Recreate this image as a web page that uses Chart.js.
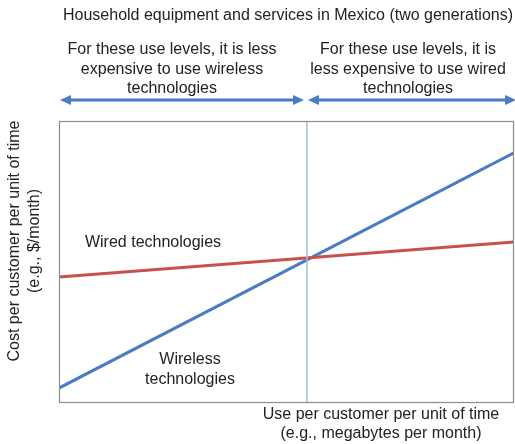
<!DOCTYPE html>
<html>
<head>
<meta charset="utf-8">
<script src="https://cdn.jsdelivr.net/npm/chart.js@4/dist/chart.umd.min.js"></script>
<style>
  html, body { margin: 0; padding: 0; background: #fff; }
  #wrap { width: 515px; height: 444px; position: relative; }
</style>
</head>
<body>
<div id="wrap"><canvas id="costChart"></canvas></div>
<script>
// Use levels (x) and cost per customer (y), arbitrary 0-100 units
const useLevels = [0, 100];
const wirelessCost = [5.3, 88.7];
const wiredCost = [44.7, 57.1];
const crossoverUse = 54.5;
const crossoverLine = [0, 100];

const FONT = '"Liberation Sans", Arial, sans-serif';
const BLUE = '#4a7bc5';
const RED = '#c8504e';

// annotations, arrows and frame
const extras = {
  id: 'extras',
  afterDatasetsDraw(chart) {
    const ctx = chart.ctx;
    const area = chart.chartArea;
    const xs = chart.scales.x;
    const cx = xs.getPixelForValue(crossoverUse);

    ctx.save();
    // frame
    ctx.strokeStyle = '#8c8c8c';
    ctx.lineWidth = 1.2;
    ctx.strokeRect(area.left + 0.5, area.top + 0.5, area.right - area.left - 1, area.bottom - area.top - 1);

    ctx.fillStyle = '#222';
    ctx.textAlign = 'center';
    ctx.textBaseline = 'middle';
    ctx.font = '16px ' + FONT;
    ctx.fillText('Household equipment and services in Mexico (two generations)', 288, 16);

    ['For these use levels, it is less', 'expensive to use wireless', 'technologies']
      .forEach((t, i) => ctx.fillText(t, 172, 50 + i * 19.5));
    ['For these use levels, it is', 'less expensive to use wired', 'technologies']
      .forEach((t, i) => ctx.fillText(t, 408, 50 + i * 19.5));

    // double arrows
    function arrow(x1, x2, y) {
      ctx.strokeStyle = BLUE;
      ctx.fillStyle = BLUE;
      ctx.lineWidth = 3;
      ctx.beginPath();
      ctx.moveTo(x1 + 8, y);
      ctx.lineTo(x2 - 8, y);
      ctx.stroke();
      ctx.beginPath();
      ctx.moveTo(x1, y); ctx.lineTo(x1 + 11, y - 5); ctx.lineTo(x1 + 11, y + 5); ctx.closePath();
      ctx.fill();
      ctx.beginPath();
      ctx.moveTo(x2, y); ctx.lineTo(x2 - 11, y - 5); ctx.lineTo(x2 - 11, y + 5); ctx.closePath();
      ctx.fill();
    }
    arrow(area.left + 1, cx - 3, 100);
    arrow(cx + 1, area.right + 2, 100);

    // line labels
    ctx.fillStyle = '#222';
    ctx.fillText('Wired technologies', 153, 243);
    ctx.fillText('Wireless', 190, 360);
    ctx.fillText('technologies', 190, 380);

    // axis titles
    ctx.fillText('Use per customer per unit of time', 381, 415);
    ctx.fillText('(e.g., megabytes per month)', 381, 434);

    ctx.save();
    ctx.translate(15, 241);
    ctx.rotate(-Math.PI / 2);
    ctx.fillText('Cost per customer per unit of time', 0, 0);
    ctx.fillText('(e.g., $/month)', 0, 20);
    ctx.restore();

    ctx.restore();
  }
};

new Chart(document.getElementById('costChart'), {
  type: 'line',
  data: {
    datasets: [
      {
        label: 'Crossover',
        data: crossoverLine.map(v => ({ x: crossoverUse, y: v })),
        borderColor: '#9dbfe3',
        borderWidth: 1.5,
        pointRadius: 0
      },
      {
        label: 'Wired technologies',
        data: useLevels.map((u, i) => ({ x: u, y: wiredCost[i] })),
        borderColor: RED,
        borderWidth: 3,
        pointRadius: 0
      },
      {
        label: 'Wireless technologies',
        data: useLevels.map((u, i) => ({ x: u, y: wirelessCost[i] })),
        borderColor: BLUE,
        borderWidth: 3,
        pointRadius: 0
      }
    ]
  },
  options: {
    responsive: true,
    maintainAspectRatio: false,
    animation: false,
    layout: { padding: { left: 59, right: 1, top: 121, bottom: 41 } },
    plugins: { legend: { display: false }, tooltip: { enabled: false } },
    scales: {
      x: { type: 'linear', min: 0, max: 100, display: false },
      y: { type: 'linear', min: 0, max: 100, display: false }
    }
  },
  plugins: [extras]
});
</script>
</body>
</html>
